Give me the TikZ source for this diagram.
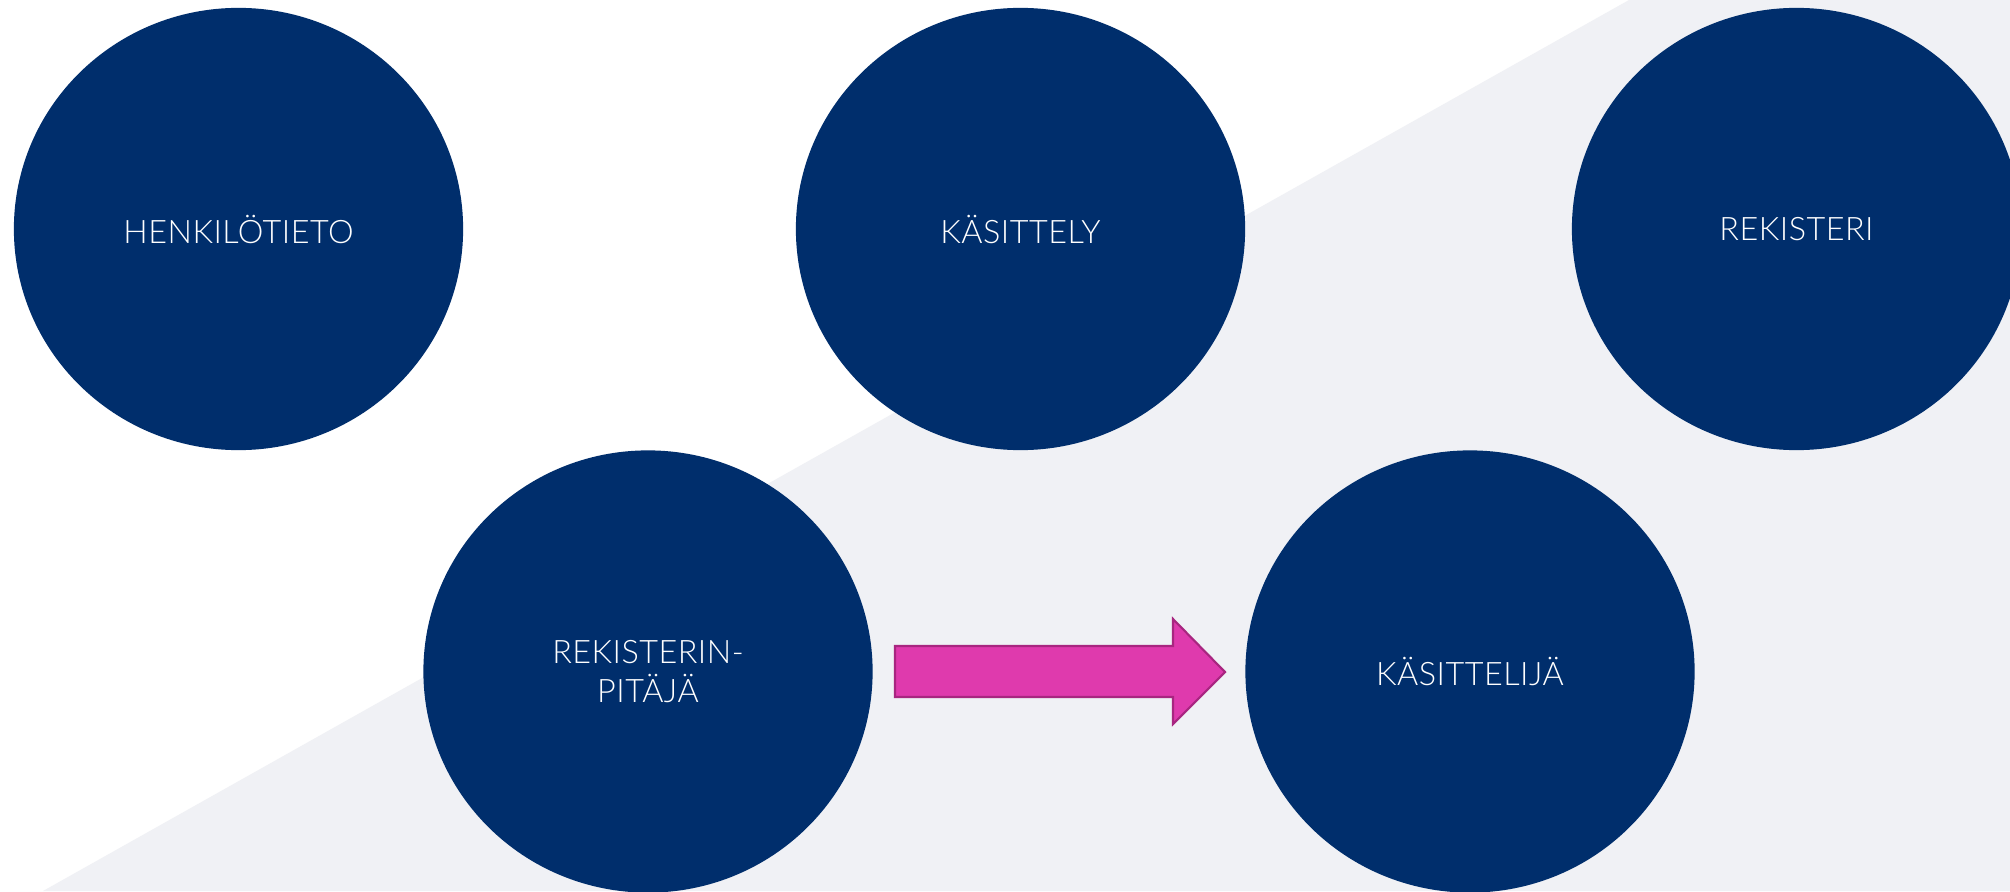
\documentclass[tikz,border=0pt]{standalone}
\usepackage{fontspec}
\usepackage{tikz}
\usetikzlibrary{shapes.geometric}
\newfontfamily\lblfont{Lato Light}[LetterSpace=1.5]

\definecolor{blobblue}{RGB}{0,46,108}
\definecolor{bggray}{RGB}{240,241,245}
\definecolor{arrowpink}{RGB}{223,58,173}
\definecolor{arrowedge}{RGB}{168,38,128}

\begin{document}
\begin{tikzpicture}[x=0.01cm,y=-0.01cm,
  blob/.style={ellipse,fill=blobblue,minimum width=4.49cm,minimum height=4.42cm,
    inner sep=0pt,text=white,align=center,font=\lblfont\fontsize{9.2}{11}\selectfont}]
  \useasboundingbox (0,0) rectangle (2010,891);
  \clip (0,0) rectangle (2010,891);

  % Arrow corners
  \coordinate (A) at (895,646);
  \coordinate (B) at (1173,646);
  \coordinate (C) at (1173,619);
  \coordinate (D) at (1225,672);
  \coordinate (E) at (1173,724);
  \coordinate (F) at (1173,697);
  \coordinate (G) at (895,697);

  % Background
  \fill[white] (0,0) rectangle (2010,891);
  \fill[bggray] (43,891) -- (1629,0) -- (2010,0) -- (2010,891) -- cycle;

  % Terms
  \node[blob] (henkilotieto) at (238.5,229) {HENKILÖTIETO};
  \node[blob] (kasittely) at (1020.5,229) {KÄSITTELY};
  \node[blob] (rekisteri) at (1796.5,229) {REKISTERI};
  \node[blob] (pitaja) at (648,671.5) {REKISTERIN-\\PITÄJÄ};
  \node[blob] (kasittelija) at (1470,671.5) {KÄSITTELIJÄ};

  % Block arrow
  \draw[fill=arrowpink,draw=arrowedge,line width=0.6pt]
  (A) -- (B) -- (C) -- (D) -- (E) -- (F) -- (G) -- cycle;
\end{tikzpicture}
\end{document}
